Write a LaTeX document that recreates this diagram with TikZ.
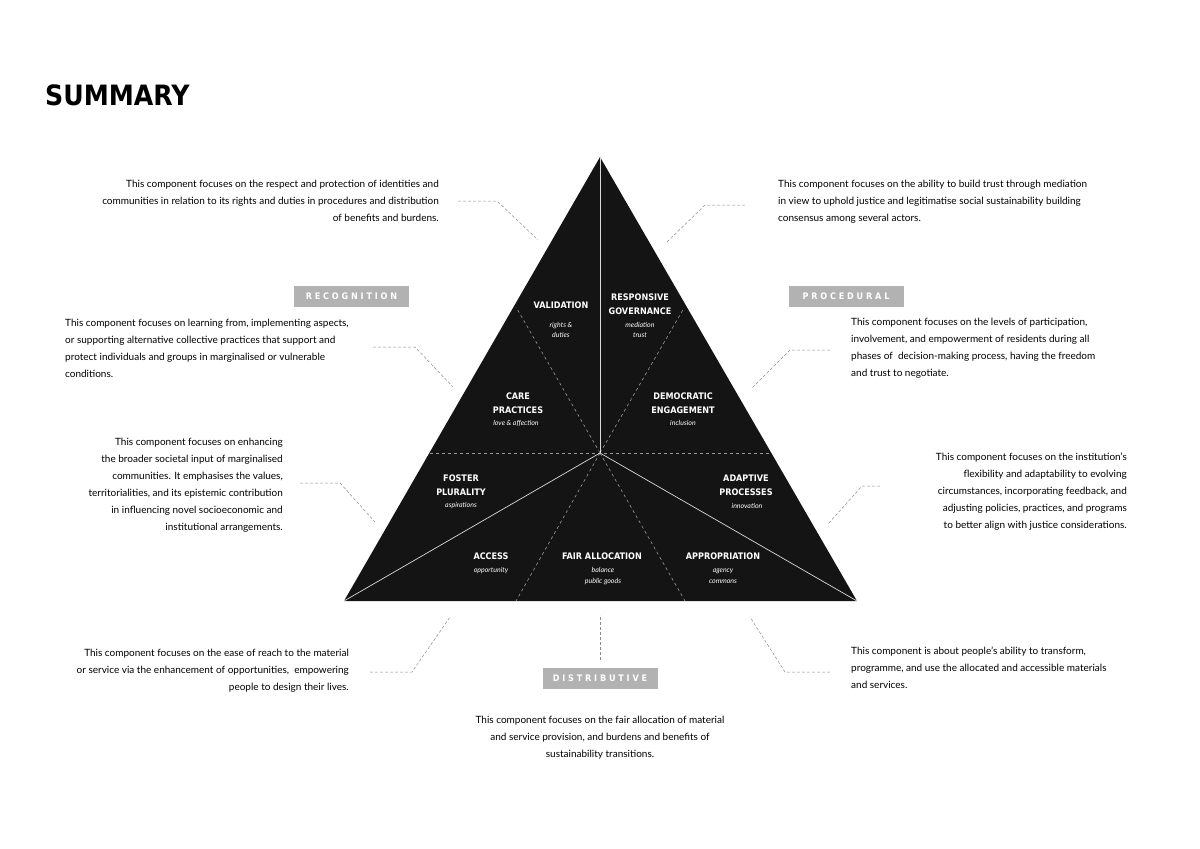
\documentclass[tikz,border=0pt]{standalone}
\usepackage{fontspec}
\setmainfont{Lato}
\newfontfamily\headfont{DejaVu Sans Condensed}
\usetikzlibrary{positioning}

\tikzset{
  head/.style = {text = white, font = \headfont\bfseries\fontsize{9}{14}\selectfont, align = center, inner sep = 0pt},
  sub/.style = {text = white, font = \itshape\fontsize{7}{10.5}\selectfont, align = center, inner sep = 0pt},
  body/.style = {font = \fontsize{10}{17}\selectfont, inner sep = 0pt, anchor = north west},
  tag/.style = {fill = black!30, text = white, font = \headfont\bfseries\fontsize{9}{9}\selectfont,
                minimum width = 115pt, minimum height = 21pt, inner sep = 0pt},
  lead/.style = {draw = black!45, densely dashed, line width = 0.5pt},
  cut/.style = {draw = black!40, dashed, line width = 0.6pt}
}

\begin{document}
\begin{tikzpicture}[x = 1pt, y = -1pt]
    \useasboundingbox (0, 0) rectangle (1200, 849);

    \node[anchor = north west, inner sep = 0pt, font = \headfont\bfseries\fontsize{28}{28}\selectfont] (title) at (45, 85){SUMMARY};

    % triangle
    \coordinate (top) at (600, 157);
    \coordinate (bl) at (344, 601);
    \coordinate (br) at (857, 601);
    \coordinate (mid) at (600, 453);
    \fill[black!92] (top) -- (bl) -- (br) -- cycle;

    \draw[cut] (430, 453) -- (771, 453);
    \draw[cut] (mid) -- (516, 307);
    \draw[cut] (mid) -- (684, 308);
    \draw[cut] (mid) -- (516, 601);
    \draw[cut] (mid) -- (685, 601);

    \draw[white!85!black, line width = 0.7pt] (top) -- (mid);
    \draw[white!85!black, line width = 0.7pt] (mid) -- (bl);
    \draw[white!85!black, line width = 0.7pt] (mid) -- (br);

    % components
    \node[head] (val) at (561, 305){VALIDATION};
    \node[sub] (valsub) at (561, 330){rights \&\\duties};
    \node[head] (gov) at (640, 304){RESPONSIVE\\GOVERNANCE};
    \node[sub] (govsub) at (640, 330){mediation\\trust};
    \node[head] (care) at (518, 403){CARE\\PRACTICES};
    \node[sub] (caresub) at (516, 423){love \& affection};
    \node[head] (dem) at (683, 403){DEMOCRATIC\\ENGAGEMENT};
    \node[sub] (demsub) at (683, 423){inclusion};
    \node[head] (fos) at (461, 485){FOSTER\\PLURALITY};
    \node[sub] (fossub) at (461, 506){aspirations};
    \node[head] (ada) at (746, 485){ADAPTIVE\\PROCESSES};
    \node[sub] (adasub) at (747, 506){innovation};
    \node[head] (acc) at (491, 556){ACCESS};
    \node[sub] (accsub) at (491, 571){opportunity};
    \node[head] (fair) at (602, 556){FAIR ALLOCATION};
    \node[sub] (fairsub) at (603, 576){balance\\public goods};
    \node[head] (app) at (723, 556){APPROPRIATION};
    \node[sub] (appsub) at (723, 576){agency\\commons};

    % dimension tags
    \node[tag] (rec) at (351.5, 296){R E C O G N I T I O N};
    \node[tag] (pro) at (846, 296){P R O C E D U R A L};
    \node[tag] (dis) at (600, 678){D I S T R I B U T I V E};

    % descriptions
    \node[body, anchor = north east, align = right] (t1) at (439, 180){This component focuses on the respect and protection of identities and\\ communities in relation to its rights and duties in procedures and distribution\\ of benefits and burdens.};
    \node[body, align = left] (t2) at (778, 180){This component focuses on the ability to build trust through mediation\\ in view to uphold justice and legitimatise social sustainability building\\ consensus among several actors.};
    \node[body, align = left] (t3) at (65, 319){This component focuses on learning from, implementing aspects,\\ or supporting alternative collective practices that support and\\ protect individuals and groups in marginalised or vulnerable\\ conditions.};
    \node[body, align = left] (t4) at (851, 318){This component focuses on the levels of participation,\\ involvement, and empowerment of residents during all\\ phases of \ decision-making process, having the freedom\\ and trust to negotiate.};
    \node[body, anchor = north east, align = right] (t5) at (283, 438){This component focuses on enhancing\\ the broader societal input of marginalised\\ communities. It emphasises the values,\\ territorialities, and its epistemic contribution\\ in influencing novel socioeconomic and\\ institutional arrangements.};
    \node[body, anchor = north east, align = right] (t6) at (1127, 453){This component focuses on the institution's\\ flexibility and adaptability to evolving\\ circumstances, incorporating feedback, and\\ adjusting policies, practices, and programs\\ to better align with justice considerations.};
    \node[body, anchor = north east, align = right] (t7) at (349, 649){This component focuses on the ease of reach to the material\\ or service via the enhancement of opportunities, \ empowering\\ people to design their lives.};
    \node[body, align = left] (t8) at (851, 647){This component is about people's ability to transform,\\ programme, and use the allocated and accessible materials\\ and services.};
    \node[body, anchor = north, align = center] (t9) at (600, 716){This component focuses on the fair allocation of material\\ and service provision, and burdens and benefits of\\ sustainability transitions.};

    % leaders
    \coordinate (l1) at (538, 240);
    \coordinate (l2) at (667, 242);
    \coordinate (l3) at (453, 387);
    \coordinate (l4) at (752, 388);
    \coordinate (l5) at (375, 522);
    \coordinate (l6) at (828, 524);
    \coordinate (l7) at (450, 617);
    \coordinate (l8) at (600, 615);
    \coordinate (l9) at (750, 617);
    \draw[lead] (458, 201) -- (497, 201) -- (l1);
    \draw[lead] (745, 205) -- (705, 205) -- (l2);
    \draw[lead] (373, 347) -- (415, 347) -- (l3);
    \draw[lead] (830, 350) -- (790, 350) -- (l4);
    \draw[lead] (300, 483) -- (340, 483) -- (l5);
    \draw[lead] (880, 486) -- (862, 486) -- (l6);
    \draw[lead] (370, 672) -- (412, 672) -- (l7);
    \draw[lead] (600, 660) -- (l8);
    \draw[lead] (830, 672) -- (785, 672) -- (l9);
\end{tikzpicture}
\end{document}
